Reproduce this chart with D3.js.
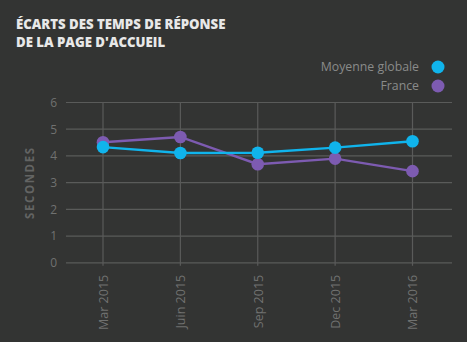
<!DOCTYPE html>
<html>
<head>
<meta charset="utf-8">
<script src="https://cdn.jsdelivr.net/npm/d3@7"></script>
<style>
  html, body { margin: 0; padding: 0; background: #333433; }
  svg { display: block; }
</style>
</head>
<body>
<svg id="chart" width="467" height="342"></svg>
<script>
// Homepage response times, in seconds
const periods = ["Mar 2015", "Juin 2015", "Sep 2015", "Dec 2015", "Mar 2016"];
const moyenneGlobale = [4.33, 4.11, 4.12, 4.31, 4.55];
const france = [4.51, 4.71, 3.69, 3.90, 3.43];
const yTicks = [0, 1, 2, 3, 4, 5, 6];
const titleLines = ["ÉCARTS DES TEMPS DE RÉPONSE", "DE LA PAGE D'ACCUEIL"];
const seriesNames = ["Moyenne globale", "France"];

const colors = { "Moyenne globale": "#10b4ec", "France": "#7d5bb1" };
const font = "'Open Sans', 'DejaVu Sans', sans-serif";

const svg = d3.select("#chart");
svg.append("rect").attr("width", 467).attr("height", 342).attr("fill", "#333433");

// Title
svg.append("text")
  .attr("font-family", font).attr("font-weight", 800).attr("font-size", 13.2)
  .attr("fill", "#e8e8e8")
  .selectAll("tspan").data(titleLines).join("tspan")
  .attr("x", 16).attr("y", (d, i) => 29 + i * 17.5)
  .text(d => d);

// Scales
const x = d3.scalePoint().domain(periods).range([103, 412.5]);
const y = d3.scaleLinear().domain([0, 6]).range([262.8, 102.5]);

const gridColor = "#5a5b5a";

// Horizontal grid lines
svg.append("g").selectAll("line").data(yTicks).join("line")
  .attr("x1", 66).attr("x2", 452)
  .attr("y1", d => y(d)).attr("y2", d => y(d))
  .attr("stroke", gridColor).attr("stroke-width", 1.2);

// Vertical grid lines
svg.append("g").selectAll("line").data(periods).join("line")
  .attr("x1", d => x(d)).attr("x2", d => x(d))
  .attr("y1", y(6)).attr("y2", y(0) + 3)
  .attr("stroke", gridColor).attr("stroke-width", 1.2);

// Y axis labels
const yAxis = d3.axisLeft(y).tickValues(yTicks).tickFormat(d3.format("d")).tickSize(0).tickPadding(0);
const yg = svg.append("g").attr("transform", "translate(57,0)").call(yAxis);
yg.select(".domain").remove();
yg.selectAll("text")
  .attr("font-family", font).attr("font-size", 12).attr("fill", "#707170");

// X axis labels (rotated)
const xAxis = d3.axisBottom(x).tickSize(0).tickPadding(0);
const xg = svg.append("g").attr("transform", `translate(0,${y(0)})`).call(xAxis);
xg.select(".domain").remove();
xg.selectAll("text")
  .attr("font-family", font).attr("font-size", 12.5).attr("fill", "#707170")
  .attr("transform", "rotate(-90)")
  .attr("text-anchor", "end")
  .attr("x", -12).attr("y", 0).attr("dy", "0.35em");

// Y axis title
svg.append("text")
  .attr("transform", `translate(34,${(y(0) + y(6)) / 2}) rotate(-90)`)
  .attr("text-anchor", "middle")
  .attr("font-family", font).attr("font-weight", 700).attr("font-size", 11.5)
  .attr("letter-spacing", 1.6)
  .attr("fill", "#636463")
  .text("SECONDES");

// Series
const seriesData = [
  { name: "France", values: france },
  { name: "Moyenne globale", values: moyenneGlobale }
];
const line = d3.line().x((d, i) => x(periods[i])).y(d => y(d));

seriesData.forEach(s => {
  const g = svg.append("g");
  g.append("path").datum(s.values)
    .attr("d", line).attr("fill", "none")
    .attr("stroke", colors[s.name]).attr("stroke-width", 2.4);
  g.selectAll("circle").data(s.values).join("circle")
    .attr("cx", (d, i) => x(periods[i])).attr("cy", d => y(d))
    .attr("r", 6.3).attr("fill", colors[s.name]);
});

// Legend
const legend = svg.append("g");
seriesNames.forEach((name, i) => {
  const cy = 67 + i * 19;
  legend.append("text")
    .attr("x", 419).attr("y", cy).attr("dy", "0.35em")
    .attr("text-anchor", "end")
    .attr("font-family", font).attr("font-size", 12.3)
    .attr("fill", "#8a8b8a")
    .text(name);
  legend.append("circle")
    .attr("cx", 438).attr("cy", cy).attr("r", 6.5)
    .attr("fill", colors[name]);
});
</script>
</body>
</html>
